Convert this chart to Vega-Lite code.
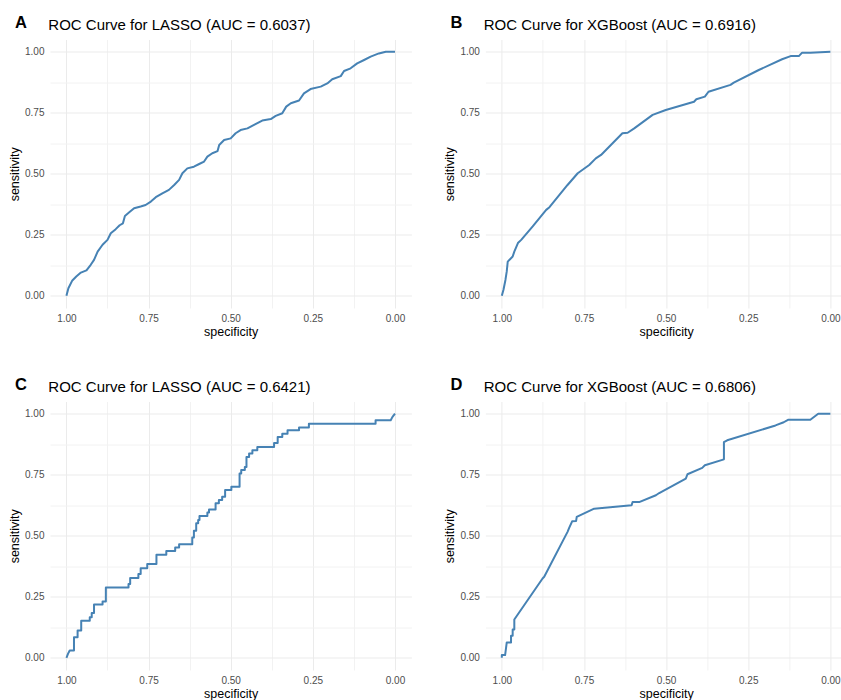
{
  "$schema": "https://vega.github.io/schema/vega-lite/v6.json",
  "background": "white",
  "padding": {"left": 8, "top": 14.5, "right": 0, "bottom": 0},
  "datasets": {
    "A": [
      {"specificity": 1, "sensitivity": 0}, {"specificity": 0.994, "sensitivity": 0.031}, {"specificity": 0.982, "sensitivity": 0.063},
      {"specificity": 0.97, "sensitivity": 0.079}, {"specificity": 0.956, "sensitivity": 0.095}, {"specificity": 0.939, "sensitivity": 0.104},
      {"specificity": 0.926, "sensitivity": 0.127}, {"specificity": 0.916, "sensitivity": 0.147}, {"specificity": 0.905, "sensitivity": 0.181},
      {"specificity": 0.89, "sensitivity": 0.209}, {"specificity": 0.875, "sensitivity": 0.229}, {"specificity": 0.865, "sensitivity": 0.256},
      {"specificity": 0.85, "sensitivity": 0.273}, {"specificity": 0.838, "sensitivity": 0.289}, {"specificity": 0.828, "sensitivity": 0.297},
      {"specificity": 0.822, "sensitivity": 0.327}, {"specificity": 0.807, "sensitivity": 0.344}, {"specificity": 0.794, "sensitivity": 0.359},
      {"specificity": 0.774, "sensitivity": 0.366}, {"specificity": 0.759, "sensitivity": 0.372}, {"specificity": 0.743, "sensitivity": 0.386},
      {"specificity": 0.728, "sensitivity": 0.404}, {"specificity": 0.708, "sensitivity": 0.42}, {"specificity": 0.688, "sensitivity": 0.434},
      {"specificity": 0.672, "sensitivity": 0.454}, {"specificity": 0.657, "sensitivity": 0.475}, {"specificity": 0.647, "sensitivity": 0.502},
      {"specificity": 0.632, "sensitivity": 0.522}, {"specificity": 0.612, "sensitivity": 0.529}, {"specificity": 0.596, "sensitivity": 0.54},
      {"specificity": 0.581, "sensitivity": 0.55}, {"specificity": 0.571, "sensitivity": 0.57}, {"specificity": 0.556, "sensitivity": 0.584},
      {"specificity": 0.54, "sensitivity": 0.593}, {"specificity": 0.535, "sensitivity": 0.618}, {"specificity": 0.52, "sensitivity": 0.638},
      {"specificity": 0.5, "sensitivity": 0.645}, {"specificity": 0.485, "sensitivity": 0.666}, {"specificity": 0.47, "sensitivity": 0.679},
      {"specificity": 0.449, "sensitivity": 0.686}, {"specificity": 0.429, "sensitivity": 0.7}, {"specificity": 0.404, "sensitivity": 0.718},
      {"specificity": 0.378, "sensitivity": 0.724}, {"specificity": 0.363, "sensitivity": 0.737}, {"specificity": 0.343, "sensitivity": 0.748},
      {"specificity": 0.331, "sensitivity": 0.775}, {"specificity": 0.317, "sensitivity": 0.789}, {"specificity": 0.292, "sensitivity": 0.8},
      {"specificity": 0.277, "sensitivity": 0.829}, {"specificity": 0.257, "sensitivity": 0.847}, {"specificity": 0.226, "sensitivity": 0.857},
      {"specificity": 0.206, "sensitivity": 0.87}, {"specificity": 0.191, "sensitivity": 0.887}, {"specificity": 0.165, "sensitivity": 0.9},
      {"specificity": 0.155, "sensitivity": 0.921}, {"specificity": 0.135, "sensitivity": 0.932}, {"specificity": 0.115, "sensitivity": 0.952},
      {"specificity": 0.094, "sensitivity": 0.966}, {"specificity": 0.074, "sensitivity": 0.98}, {"specificity": 0.049, "sensitivity": 0.993},
      {"specificity": 0.028, "sensitivity": 1}, {"specificity": 0, "sensitivity": 1}
    ],
    "B": [
      {"specificity": 1, "sensitivity": 0}, {"specificity": 0.995, "sensitivity": 0.025}, {"specificity": 0.989, "sensitivity": 0.065},
      {"specificity": 0.985, "sensitivity": 0.1}, {"specificity": 0.982, "sensitivity": 0.14}, {"specificity": 0.972, "sensitivity": 0.154},
      {"specificity": 0.967, "sensitivity": 0.161}, {"specificity": 0.962, "sensitivity": 0.181}, {"specificity": 0.951, "sensitivity": 0.216},
      {"specificity": 0.941, "sensitivity": 0.229}, {"specificity": 0.906, "sensitivity": 0.284}, {"specificity": 0.865, "sensitivity": 0.352},
      {"specificity": 0.855, "sensitivity": 0.363}, {"specificity": 0.8, "sensitivity": 0.454}, {"specificity": 0.769, "sensitivity": 0.502},
      {"specificity": 0.734, "sensitivity": 0.536}, {"specificity": 0.714, "sensitivity": 0.563}, {"specificity": 0.698, "sensitivity": 0.577},
      {"specificity": 0.633, "sensitivity": 0.666}, {"specificity": 0.617, "sensitivity": 0.668}, {"specificity": 0.597, "sensitivity": 0.686},
      {"specificity": 0.541, "sensitivity": 0.741}, {"specificity": 0.501, "sensitivity": 0.761}, {"specificity": 0.415, "sensitivity": 0.795},
      {"specificity": 0.408, "sensitivity": 0.805}, {"specificity": 0.382, "sensitivity": 0.816}, {"specificity": 0.371, "sensitivity": 0.836},
      {"specificity": 0.304, "sensitivity": 0.864}, {"specificity": 0.294, "sensitivity": 0.873}, {"specificity": 0.218, "sensitivity": 0.925},
      {"specificity": 0.147, "sensitivity": 0.969}, {"specificity": 0.121, "sensitivity": 0.982}, {"specificity": 0.096, "sensitivity": 0.982},
      {"specificity": 0.086, "sensitivity": 0.996}, {"specificity": 0.061, "sensitivity": 0.996}, {"specificity": 0, "sensitivity": 1}
    ],
    "C": [
      {"specificity": 1, "sensitivity": 0}, {"specificity": 0.995, "sensitivity": 0.017}, {"specificity": 0.99, "sensitivity": 0.03},
      {"specificity": 0.977, "sensitivity": 0.03}, {"specificity": 0.977, "sensitivity": 0.084}, {"specificity": 0.966, "sensitivity": 0.084},
      {"specificity": 0.966, "sensitivity": 0.112}, {"specificity": 0.955, "sensitivity": 0.112}, {"specificity": 0.955, "sensitivity": 0.152},
      {"specificity": 0.929, "sensitivity": 0.152}, {"specificity": 0.929, "sensitivity": 0.166}, {"specificity": 0.923, "sensitivity": 0.166},
      {"specificity": 0.923, "sensitivity": 0.184}, {"specificity": 0.916, "sensitivity": 0.184}, {"specificity": 0.916, "sensitivity": 0.218},
      {"specificity": 0.89, "sensitivity": 0.218}, {"specificity": 0.89, "sensitivity": 0.231}, {"specificity": 0.88, "sensitivity": 0.231},
      {"specificity": 0.88, "sensitivity": 0.288}, {"specificity": 0.811, "sensitivity": 0.288}, {"specificity": 0.811, "sensitivity": 0.302},
      {"specificity": 0.806, "sensitivity": 0.302}, {"specificity": 0.806, "sensitivity": 0.327}, {"specificity": 0.781, "sensitivity": 0.327},
      {"specificity": 0.781, "sensitivity": 0.343}, {"specificity": 0.774, "sensitivity": 0.343}, {"specificity": 0.774, "sensitivity": 0.367},
      {"specificity": 0.754, "sensitivity": 0.367}, {"specificity": 0.754, "sensitivity": 0.384}, {"specificity": 0.726, "sensitivity": 0.384},
      {"specificity": 0.726, "sensitivity": 0.422}, {"specificity": 0.696, "sensitivity": 0.422}, {"specificity": 0.696, "sensitivity": 0.438},
      {"specificity": 0.669, "sensitivity": 0.438}, {"specificity": 0.669, "sensitivity": 0.452}, {"specificity": 0.657, "sensitivity": 0.452},
      {"specificity": 0.657, "sensitivity": 0.465}, {"specificity": 0.617, "sensitivity": 0.465}, {"specificity": 0.617, "sensitivity": 0.493},
      {"specificity": 0.612, "sensitivity": 0.493}, {"specificity": 0.612, "sensitivity": 0.52}, {"specificity": 0.605, "sensitivity": 0.52},
      {"specificity": 0.605, "sensitivity": 0.551}, {"specificity": 0.599, "sensitivity": 0.551}, {"specificity": 0.599, "sensitivity": 0.565},
      {"specificity": 0.595, "sensitivity": 0.565}, {"specificity": 0.595, "sensitivity": 0.581}, {"specificity": 0.571, "sensitivity": 0.581},
      {"specificity": 0.571, "sensitivity": 0.595}, {"specificity": 0.566, "sensitivity": 0.595}, {"specificity": 0.566, "sensitivity": 0.608},
      {"specificity": 0.546, "sensitivity": 0.608}, {"specificity": 0.546, "sensitivity": 0.633}, {"specificity": 0.536, "sensitivity": 0.633},
      {"specificity": 0.536, "sensitivity": 0.646}, {"specificity": 0.526, "sensitivity": 0.646}, {"specificity": 0.526, "sensitivity": 0.66},
      {"specificity": 0.517, "sensitivity": 0.66}, {"specificity": 0.517, "sensitivity": 0.687}, {"specificity": 0.498, "sensitivity": 0.687},
      {"specificity": 0.498, "sensitivity": 0.701}, {"specificity": 0.473, "sensitivity": 0.701}, {"specificity": 0.473, "sensitivity": 0.755},
      {"specificity": 0.468, "sensitivity": 0.755}, {"specificity": 0.468, "sensitivity": 0.769}, {"specificity": 0.457, "sensitivity": 0.769},
      {"specificity": 0.457, "sensitivity": 0.782}, {"specificity": 0.452, "sensitivity": 0.782}, {"specificity": 0.452, "sensitivity": 0.823},
      {"specificity": 0.444, "sensitivity": 0.823}, {"specificity": 0.444, "sensitivity": 0.837}, {"specificity": 0.434, "sensitivity": 0.837},
      {"specificity": 0.434, "sensitivity": 0.85}, {"specificity": 0.419, "sensitivity": 0.85}, {"specificity": 0.419, "sensitivity": 0.864},
      {"specificity": 0.368, "sensitivity": 0.864}, {"specificity": 0.368, "sensitivity": 0.88}, {"specificity": 0.357, "sensitivity": 0.88},
      {"specificity": 0.357, "sensitivity": 0.905}, {"specificity": 0.343, "sensitivity": 0.905}, {"specificity": 0.343, "sensitivity": 0.918},
      {"specificity": 0.327, "sensitivity": 0.918}, {"specificity": 0.327, "sensitivity": 0.932}, {"specificity": 0.292, "sensitivity": 0.932},
      {"specificity": 0.292, "sensitivity": 0.943}, {"specificity": 0.262, "sensitivity": 0.943}, {"specificity": 0.262, "sensitivity": 0.959},
      {"specificity": 0.059, "sensitivity": 0.959}, {"specificity": 0.059, "sensitivity": 0.973}, {"specificity": 0.013, "sensitivity": 0.973},
      {"specificity": 0.008, "sensitivity": 0.986}, {"specificity": 0, "sensitivity": 1}
    ],
    "D": [
      {"specificity": 1, "sensitivity": 0}, {"specificity": 1, "sensitivity": 0.011}, {"specificity": 0.99, "sensitivity": 0.011},
      {"specificity": 0.985, "sensitivity": 0.063}, {"specificity": 0.972, "sensitivity": 0.063}, {"specificity": 0.972, "sensitivity": 0.09},
      {"specificity": 0.967, "sensitivity": 0.09}, {"specificity": 0.967, "sensitivity": 0.116}, {"specificity": 0.962, "sensitivity": 0.116},
      {"specificity": 0.962, "sensitivity": 0.157}, {"specificity": 0.876, "sensitivity": 0.325}, {"specificity": 0.871, "sensitivity": 0.332},
      {"specificity": 0.8, "sensitivity": 0.516}, {"specificity": 0.795, "sensitivity": 0.532}, {"specificity": 0.786, "sensitivity": 0.559},
      {"specificity": 0.774, "sensitivity": 0.56}, {"specificity": 0.772, "sensitivity": 0.577}, {"specificity": 0.719, "sensitivity": 0.611},
      {"specificity": 0.605, "sensitivity": 0.625}, {"specificity": 0.602, "sensitivity": 0.638}, {"specificity": 0.582, "sensitivity": 0.638},
      {"specificity": 0.531, "sensitivity": 0.666}, {"specificity": 0.521, "sensitivity": 0.675}, {"specificity": 0.44, "sensitivity": 0.734},
      {"specificity": 0.435, "sensitivity": 0.752}, {"specificity": 0.39, "sensitivity": 0.778}, {"specificity": 0.382, "sensitivity": 0.789},
      {"specificity": 0.324, "sensitivity": 0.813}, {"specificity": 0.324, "sensitivity": 0.884}, {"specificity": 0.314, "sensitivity": 0.891},
      {"specificity": 0.167, "sensitivity": 0.952}, {"specificity": 0.142, "sensitivity": 0.965}, {"specificity": 0.129, "sensitivity": 0.975},
      {"specificity": 0.061, "sensitivity": 0.975}, {"specificity": 0.037, "sensitivity": 1}, {"specificity": 0, "sensitivity": 1}
    ]
  },
  "concat": [
    {
      "width": 361.4, "height": 268.5,
      "title": {"text": "A", "subtitle": "\u2060\u00a0\u00a0\u00a0\u00a0\u00a0\u00a0\u00a0\u00a0ROC Curve for LASSO (AUC = 0.6037)"},
      "data": {"name": "A"},
      "mark": {"type": "line", "color": "#4682B4", "strokeWidth": 2, "strokeJoin": "round"},
      "encoding": {
        "x": {"field": "specificity", "type": "quantitative", "title": "specificity",
          "scale": {"domain": [-0.05, 1.05], "reverse": true, "nice": false, "zero": false},
          "axis": {"values": [0, 0.125, 0.25, 0.375, 0.5, 0.625, 0.75, 0.875, 1],
            "labelExpr": "datum.value * 8 % 2 === 1 ? '' : format(datum.value, '.2f')",
            "gridColor": {"condition": {"test": "datum.value * 8 % 2 === 1", "value": "#F2F2F2"}, "value": "#EBEBEB"}}},
        "y": {"field": "sensitivity", "type": "quantitative", "title": "sensitivity",
          "scale": {"domain": [-0.05, 1.05], "nice": false, "zero": false},
          "axis": {"values": [0, 0.125, 0.25, 0.375, 0.5, 0.625, 0.75, 0.875, 1],
            "labelExpr": "datum.value * 8 % 2 === 1 ? '' : format(datum.value, '.2f')",
            "gridColor": {"condition": {"test": "datum.value * 8 % 2 === 1", "value": "#F2F2F2"}, "value": "#EBEBEB"}}},
        "order": {"value": null}
      }
    },
    {
      "width": 361.4, "height": 268.5,
      "title": {"text": "B", "subtitle": "\u2060\u00a0\u00a0\u00a0\u00a0\u00a0\u00a0\u00a0\u00a0ROC Curve for XGBoost (AUC = 0.6916)"},
      "data": {"name": "B"},
      "mark": {"type": "line", "color": "#4682B4", "strokeWidth": 2, "strokeJoin": "round"},
      "encoding": {
        "x": {"field": "specificity", "type": "quantitative", "title": "specificity",
          "scale": {"domain": [-0.05, 1.05], "reverse": true, "nice": false, "zero": false},
          "axis": {"values": [0, 0.125, 0.25, 0.375, 0.5, 0.625, 0.75, 0.875, 1],
            "labelExpr": "datum.value * 8 % 2 === 1 ? '' : format(datum.value, '.2f')",
            "gridColor": {"condition": {"test": "datum.value * 8 % 2 === 1", "value": "#F2F2F2"}, "value": "#EBEBEB"}}},
        "y": {"field": "sensitivity", "type": "quantitative", "title": "sensitivity",
          "scale": {"domain": [-0.05, 1.05], "nice": false, "zero": false},
          "axis": {"values": [0, 0.125, 0.25, 0.375, 0.5, 0.625, 0.75, 0.875, 1],
            "labelExpr": "datum.value * 8 % 2 === 1 ? '' : format(datum.value, '.2f')",
            "gridColor": {"condition": {"test": "datum.value * 8 % 2 === 1", "value": "#F2F2F2"}, "value": "#EBEBEB"}}},
        "order": {"value": null}
      }
    },
    {
      "width": 361.4, "height": 268.5,
      "title": {"text": "C", "subtitle": "\u2060\u00a0\u00a0\u00a0\u00a0\u00a0\u00a0\u00a0\u00a0ROC Curve for LASSO (AUC = 0.6421)"},
      "data": {"name": "C"},
      "mark": {"type": "line", "color": "#4682B4", "strokeWidth": 2, "strokeJoin": "round"},
      "encoding": {
        "x": {"field": "specificity", "type": "quantitative", "title": "specificity",
          "scale": {"domain": [-0.05, 1.05], "reverse": true, "nice": false, "zero": false},
          "axis": {"values": [0, 0.125, 0.25, 0.375, 0.5, 0.625, 0.75, 0.875, 1],
            "labelExpr": "datum.value * 8 % 2 === 1 ? '' : format(datum.value, '.2f')",
            "gridColor": {"condition": {"test": "datum.value * 8 % 2 === 1", "value": "#F2F2F2"}, "value": "#EBEBEB"}}},
        "y": {"field": "sensitivity", "type": "quantitative", "title": "sensitivity",
          "scale": {"domain": [-0.05, 1.05], "nice": false, "zero": false},
          "axis": {"values": [0, 0.125, 0.25, 0.375, 0.5, 0.625, 0.75, 0.875, 1],
            "labelExpr": "datum.value * 8 % 2 === 1 ? '' : format(datum.value, '.2f')",
            "gridColor": {"condition": {"test": "datum.value * 8 % 2 === 1", "value": "#F2F2F2"}, "value": "#EBEBEB"}}},
        "order": {"value": null}
      }
    },
    {
      "width": 361.4, "height": 268.5,
      "title": {"text": "D", "subtitle": "\u2060\u00a0\u00a0\u00a0\u00a0\u00a0\u00a0\u00a0\u00a0ROC Curve for XGBoost (AUC = 0.6806)"},
      "data": {"name": "D"},
      "mark": {"type": "line", "color": "#4682B4", "strokeWidth": 2, "strokeJoin": "round"},
      "encoding": {
        "x": {"field": "specificity", "type": "quantitative", "title": "specificity",
          "scale": {"domain": [-0.05, 1.05], "reverse": true, "nice": false, "zero": false},
          "axis": {"values": [0, 0.125, 0.25, 0.375, 0.5, 0.625, 0.75, 0.875, 1],
            "labelExpr": "datum.value * 8 % 2 === 1 ? '' : format(datum.value, '.2f')",
            "gridColor": {"condition": {"test": "datum.value * 8 % 2 === 1", "value": "#F2F2F2"}, "value": "#EBEBEB"}}},
        "y": {"field": "sensitivity", "type": "quantitative", "title": "sensitivity",
          "scale": {"domain": [-0.05, 1.05], "nice": false, "zero": false},
          "axis": {"values": [0, 0.125, 0.25, 0.375, 0.5, 0.625, 0.75, 0.875, 1],
            "labelExpr": "datum.value * 8 % 2 === 1 ? '' : format(datum.value, '.2f')",
            "gridColor": {"condition": {"test": "datum.value * 8 % 2 === 1", "value": "#F2F2F2"}, "value": "#EBEBEB"}}},
        "order": {"value": null}
      }
    }
  ],
  "columns": 2,
  "spacing": {"row": 93, "column": 73.4},
  "bounds": "flush",
  "config": {
    "font": "Liberation Sans",
    "view": {"stroke": null},
    "axis": {
      "domain": false, "ticks": false, "grid": true, "gridWidth": 1,
      "labelFont": "Liberation Sans", "labelFontSize": 10, "labelColor": "#4D4D4D", "labelFlush": false, "labelOverlap": false,
      "titleFont": "Liberation Sans", "titleFontSize": 12.5, "titleFontWeight": "normal", "titleColor": "#000000"
    },
    "axisX": {"labelPadding": 5, "titlePadding": 2},
    "axisY": {"labelPadding": 6, "titlePadding": 3},
    "title": {
      "anchor": "start", "frame": "group", "dx": -35, "offset": 7,
      "font": "Liberation Sans", "fontSize": 16.5, "fontWeight": "bold", "color": "#000000",
      "subtitleFont": "Liberation Sans", "subtitleFontSize": 15, "subtitleFontWeight": "normal", "subtitleColor": "#000000",
      "subtitlePadding": -13.5
    }
  }
}
